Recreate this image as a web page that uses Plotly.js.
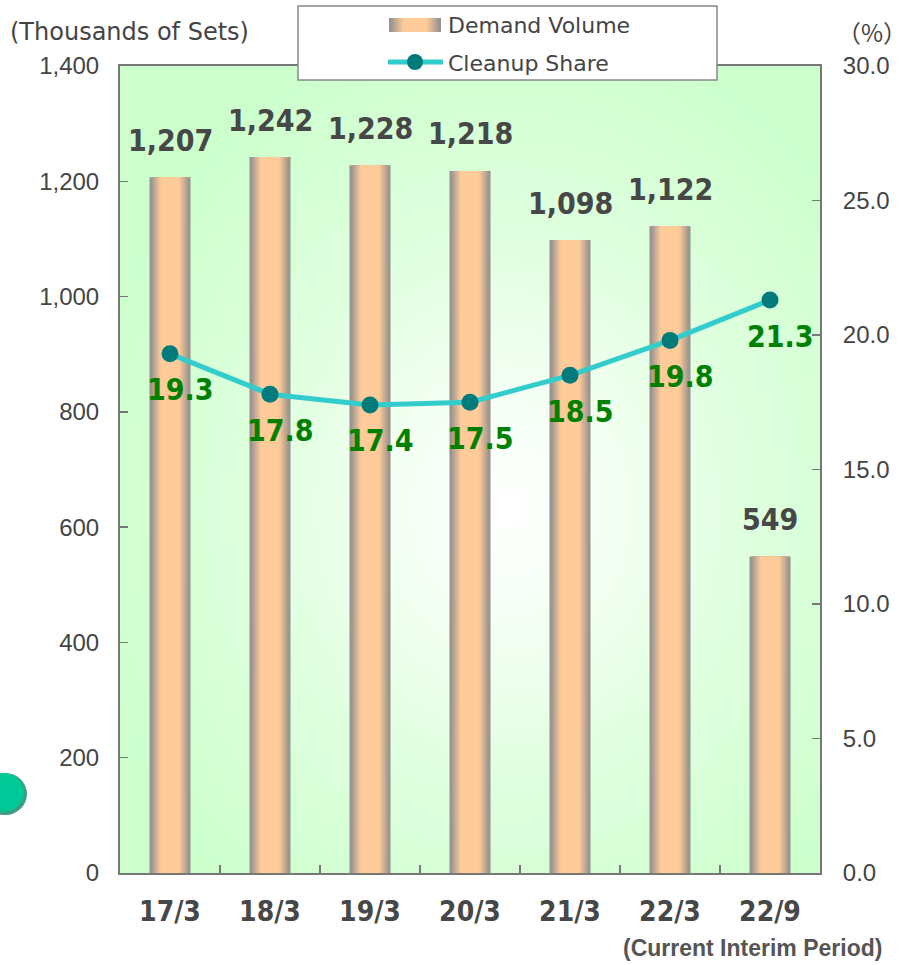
<!DOCTYPE html>
<html>
<head>
<meta charset="utf-8">
<script src="https://cdn.plot.ly/plotly-3.0.1.min.js"></script>
<style>html,body{margin:0;padding:0;background:#fff;}#chart{width:914px;height:965px;}</style>
</head>
<body>
<div id="chart"></div>
<script>
// ---- data ----
const categories = ['17/3', '18/3', '19/3', '20/3', '21/3', '22/3', '22/9'];
const demandVolume = [1207, 1242, 1228, 1218, 1098, 1122, 549];
const cleanupShare = [19.3, 17.8, 17.4, 17.5, 18.5, 19.8, 21.3];
const leftTicks = [0, 200, 400, 600, 800, 1000, 1200, 1400];
const rightTicks = [0, 5, 10, 15, 20, 25, 30];

// ---- styling helpers ----
const edgeRGB = [150, 146, 143];
const centerRGB = [255, 204, 153];
function mix(t) {
  const c = edgeRGB.map((e, i) => Math.round(e + (centerRGB[i] - e) * t));
  return 'rgb(' + c.join(',') + ')';
}
const layers = 7;
const fullWidth = 0.41;
const traces = [];
for (let i = 0; i < layers; i++) {
  const t = i / (layers - 1);
  const w = fullWidth * (1 - 0.55 * t);
  traces.push({
    type: 'bar', x: categories, y: demandVolume, width: w,
    marker: {color: mix(Math.min(1, t * 1.05)), line: {width: 0}},
    showlegend: false, hoverinfo: i === 0 ? 'x+y' : 'skip', name: 'Demand Volume'
  });
}
traces.push({
  type: 'scatter', mode: 'lines+markers', x: categories, y: cleanupShare, yaxis: 'y2',
  name: 'Cleanup Share', showlegend: false,
  line: {color: '#33CCCC', width: 5},
  marker: {color: '#007A7A', size: 17}
});

const labelFont = "'DejaVu Sans Condensed', 'Liberation Sans', Arial, sans-serif";
const baseFont = "'Liberation Sans', Arial, sans-serif";
const wideFont = "'DejaVu Sans', 'Liberation Sans', sans-serif";

const annotations = [];
demandVolume.forEach((v, i) => {
  annotations.push({
    x: categories[i], y: v, xref: 'x', yref: 'y', text: v.toLocaleString('en-US'),
    showarrow: false, yanchor: 'middle', yshift: 37,
    font: {family: labelFont, size: 30, color: '#474747', weight: 'bold'}
  });
});
cleanupShare.forEach((v, i) => {
  annotations.push({
    x: categories[i], y: v, xref: 'x', yref: 'y2', text: v.toFixed(1),
    showarrow: false, yanchor: 'middle', yshift: -36, xshift: 10,
    font: {family: labelFont, size: 30, color: '#008000', weight: 'bold'}
  });
});

// pixel -> paper helpers (plot area 120..820 x, 66..873 y)
const PL = 120, PR = 820, PT = 66, PB = 873;
const px = x => (x - PL) / (PR - PL);
const py = y => (PB - y) / (PB - PT);

annotations.push({xref: 'paper', yref: 'paper', x: px(8), y: py(32), xanchor: 'left', yanchor: 'middle',
  text: '(Thousands of Sets)', showarrow: false, font: {family: wideFont, size: 24, color: '#444'}});
annotations.push({xref: 'paper', yref: 'paper', x: px(872), y: py(32), xanchor: 'center', yanchor: 'middle',
  text: '（%）', showarrow: false, font: {family: "'Noto Sans CJK JP', sans-serif", size: 24, color: '#444'}});
annotations.push({xref: 'paper', yref: 'paper', x: px(752), y: py(948), xanchor: 'center', yanchor: 'middle',
  text: '(Current Interim Period)', showarrow: false, font: {family: baseFont, size: 23, color: '#555', weight: 'bold'}});
annotations.push({xref: 'paper', yref: 'paper', x: px(446), y: py(26), xanchor: 'left', yanchor: 'middle',
  text: 'Demand Volume', showarrow: false, font: {family: wideFont, size: 22, color: '#444'}});
annotations.push({xref: 'paper', yref: 'paper', x: px(446), y: py(63), xanchor: 'left', yanchor: 'middle',
  text: 'Cleanup Share', showarrow: false, font: {family: wideFont, size: 22, color: '#444'}});

const shapes = [];
// legend box
shapes.push({type: 'rect', xref: 'paper', yref: 'paper', x0: px(298), x1: px(717), y0: py(80), y1: py(6),
  fillcolor: '#FFFFFF', line: {color: '#888', width: 1.5}, layer: 'above'});
// legend gradient swatch
for (let i = 0; i < layers; i++) {
  const t = i / (layers - 1);
  const half = 26 * (1 - 0.55 * t);
  shapes.push({type: 'rect', xref: 'paper', yref: 'paper', x0: px(415 - half), x1: px(415 + half),
    y0: py(32), y1: py(18), fillcolor: mix(Math.min(1, t * 1.05)), line: {width: 0}, layer: 'above'});
}
// legend line + marker
shapes.push({type: 'line', xref: 'paper', yref: 'paper', x0: px(388), x1: px(443), y0: py(62), y1: py(62),
  line: {color: '#33CCCC', width: 5}, layer: 'above'});
shapes.push({type: 'circle', xref: 'paper', yref: 'paper', x0: px(407), x1: px(423), y0: py(70), y1: py(54),
  fillcolor: '#007A7A', line: {width: 0}, layer: 'above'});
// green badge at left edge
shapes.push({type: 'circle', xref: 'paper', yref: 'paper', x0: px(-17), x1: px(27), y0: py(815), y1: py(773),
  fillcolor: '#3E9C82', line: {width: 0}, layer: 'above'});
shapes.push({type: 'circle', xref: 'paper', yref: 'paper', x0: px(-18), x1: px(24), y0: py(812), y1: py(773),
  fillcolor: '#00C896', line: {width: 0}, layer: 'above'});

const svg = '<svg xmlns="http://www.w3.org/2000/svg" width="700" height="807" viewBox="0 0 700 807" preserveAspectRatio="none">' +
  '<defs><radialGradient id="g" cx="0.55" cy="0.55" r="0.62">' +
  '<stop offset="0" stop-color="#FFFFFF"/><stop offset="0.2" stop-color="#F6FFF6"/>' +
  '<stop offset="0.6" stop-color="#DDFFDD"/><stop offset="1" stop-color="#CCFFCC"/></radialGradient></defs>' +
  '<rect width="700" height="807" fill="url(#g)"/></svg>';
const bgSrc = 'data:image/svg+xml;charset=utf-8,' + encodeURIComponent(svg);

const layout = {
  width: 914, height: 965,
  margin: {l: PL, r: 914 - PR, t: PT, b: 965 - PB},
  paper_bgcolor: '#FFFFFF', plot_bgcolor: '#CCFFCC',
  barmode: 'overlay',
  showlegend: false,
  xaxis: {
    type: 'category', range: [-0.5, 6.5],
    ticks: 'inside', tickson: 'boundaries', ticklen: 8, tickcolor: '#777', tickwidth: 1.5,
    showline: true, linecolor: '#777', linewidth: 2, mirror: true,
    showgrid: false, zeroline: false,
    tickfont: {family: labelFont, size: 28, color: '#474747', weight: 'bold'},
    ticklabelstandoff: 12
  },
  yaxis: {
    range: [0, 1400], tickvals: leftTicks, tickformat: ',',
    ticks: 'inside', ticklen: 8, tickcolor: '#777', tickwidth: 1.5,
    showline: true, linecolor: '#777', linewidth: 2,
    showgrid: false, zeroline: false,
    tickfont: {family: baseFont, size: 24, color: '#444'},
    ticklabelstandoff: 14
  },
  yaxis2: {
    overlaying: 'y', side: 'right', range: [0, 30], tickvals: rightTicks, tickformat: '.1f',
    ticks: 'inside', ticklen: 8, tickcolor: '#777', tickwidth: 1.5,
    showline: true, linecolor: '#777', linewidth: 2,
    showgrid: false, zeroline: false,
    tickfont: {family: baseFont, size: 24, color: '#444'},
    ticklabelstandoff: 16
  },
  images: [{source: bgSrc, xref: 'paper', yref: 'paper', x: 0, y: 1, sizex: 1, sizey: 1,
    sizing: 'stretch', layer: 'below', xanchor: 'left', yanchor: 'top'}],
  annotations: annotations,
  shapes: shapes
};

Plotly.newPlot('chart', traces, layout, {displayModeBar: false, staticPlot: true});
</script>
</body>
</html>
